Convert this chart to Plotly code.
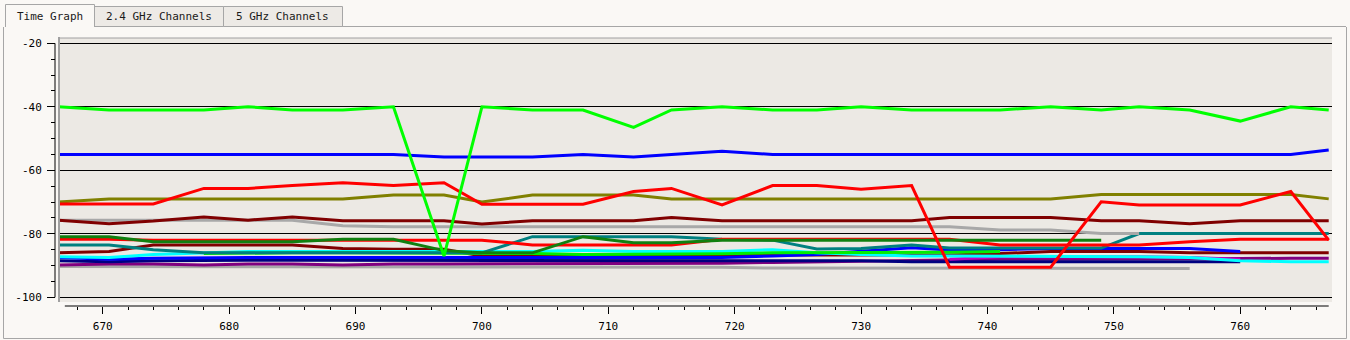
import plotly.graph_objects as go

# ---------------- data ----------------
times = [666.5, 670.5, 674, 678, 681.5, 685, 689, 693, 697, 700, 704, 708, 712, 715,
         719, 723, 726.5, 730, 734, 737, 741, 745, 749, 752, 756, 760, 764, 767]

N = None
lime = [-40, -41, -41, -41, -40, -41, -41, -40, -87, -40, -41, -41, -46.5, -41,
        -40, -41, -41, -40, -41, -41, -41, -40, -41, -40, -41, -44.5, -40, -41]
blue = [-55, -55, -55, -55, -55, -55, -55, -55, -55.8, -55.8, -55.8, -55, -55.8, -55,
        -54, -55, -55, -55, -55, -55, -55, -55, -55, -55, -55, -55, -55, -53.6]
olive = [-70, -69, -69, -69, -69, -69, -69, -67.8, -67.8, -70, -67.8, -67.8, -67.8, -69,
         -69, -69, -69, -69, -69, -69, -69, -69, -67.6, -67.6, -67.6, -67.6, -67.6, -69]
red1 = [-70.6, -70.6, -70.6, -65.7, -65.7, -64.8, -63.9, -64.8, -63.9, -70.7, -70.7, -70.7, -66.7, -65.7,
        -70.9, -64.8, -64.8, -66, -64.8, -90.5, -90.5, -90.5, -69.9, -70.9, -70.9, -70.9, -66.7, -82]
maroon1 = [-75.7, -76.8, -76, -74.7, -75.7, -74.7, -75.9, -75.9, -75.9, -76.9, -75.9, -75.9, -75.9, -74.9,
           -75.9, -75.9, -75.9, -75.9, -75.9, -74.9, -74.9, -74.9, -75.9, -75.9, -76.8, -75.9, -75.9, -75.9]
gray1 = [-75.7, -75.7, -75.7, -75.7, -75.7, -75.7, -77.5, -77.8, -77.8, -77.8, -77.8, -77.8, -77.8, -77.8,
         -77.8, -77.8, -77.8, -77.8, -77.8, -77.8, -78.8, -78.8, -79.9, -79.9, N, N, N, N]
dkgreen = [-80.9, -80.9, -82.5, -82.5, -82.5, -82.5, -81.7, -81.7, -85.3, -86, -86, -80.9, -82.8, -82.8,
           -82, -82, -82, -82, -82, -82, -82, -82, -82, N, N, N, N, N]
red2 = [-81.7, -81.7, -82, -82, -82, -82, -82, -82, -82, -82, -83.5, -83.5, -83.5, -83.5,
        -81.7, -81.7, -81.7, -81.7, -81.7, -81.7, -83.5, -83.5, -83.5, -83.5, -82.5, -81.7, -81.7, -81.7]
teal = [-83.5, -83.5, -85, -86, -86, -86, -86, -86, -86, -86, -80.9, -80.9, -80.9, -80.9,
        -81.7, -82, -84.8, -84.6, -83.5, -84.5, -84.5, -84.5, -84.5, -79.9, -79.9, -79.9, -79.9, -79.9]
cyan = [-87.2, -87.5, -86.5, -86, -85.6, -85.6, -85.6, -85.6, -85.6, -85.6, -85.6, -85.2, -85.6, -85.6,
        -85.6, -85, -86, -86.5, -87, -87, -87, -87, -87.2, -87.2, -87.5, -88.5, -88.8, -88.8]
lime2 = [N, N, N, -86.2, -86, -86, -86, -86, -86, -86, -86.2, -86.5, -86.5, -86.5,
         -86.3, -86, -86, -86, -86, -85.8, -85.6, N, N, N, N, N, N, N]
blue2 = [-87.5, -88, -87.7, -87.5, -87.5, -87.5, -87.5, -87.5, -87.5, -87.5, -87.5, -87.5, -87.5, -87.5,
         -87.5, -87, -86.5, -85.5, -84.4, -85.1, -85, -84.6, -84.6, -84.6, -84.6, -85.6, N, N]
maroon2 = [-86, -85.6, -83.5, -83.5, -83.5, -83.5, -84.6, -84.9, -84.9, -87, -87, -87, -87, -87,
           -87, -86.7, -86.7, -86.7, -86.7, -86.7, -86.2, -85.6, -85.6, -85.6, -86, -86, -86, -86]
navy = [-88.5, -88.8, -88.5, -88.3, -88.3, -88.3, -88.3, -88.3, -88.3, -88.3, -88.3, -88.5, -88.5, -88.5,
        -88.5, -88.5, -88.5, -88.5, -88.8, -88.8, -89, -89, -89, -88.8, -88.8, -88.8, N, N]
purple = [-89.8, -89.5, -89.5, -89.8, -89.5, -89.5, -89.8, -89.5, -89.5, -89.5, -89.5, -89.5, -89.5, -89.5,
          -89.3, -89, -88.8, -88.5, -88.3, -88.3, -88, -88, -88, -88, -88, -87.8, -87.7, -87.7]
magenta = [N, N, N, N, N, N, N, N, N, N, N, N, N, N,
           N, N, N, N, N, -88, -87.2, -87.2, -87.2, -87.2, -87.5, -88, N, N]
gray2 = [-90.3, -90.3, -90.3, -90.3, -90.3, -90.3, -90.3, -90.5, -90.5, -90.5, -90.5, -90.5, -90.5, -90.5,
         -90.5, -90.8, -90.8, -90.8, -90.8, -90.9, -90.9, -90.9, -90.9, -90.9, -90.9, N, N, N]

x_ticks = [670, 680, 690, 700, 710, 720, 730, 740, 750, 760]
y_ticks = [-100, -80, -60, -40, -20]
tabs = ["Time Graph", "2.4 GHz Channels", "5 GHz Channels"]

series = [
    ("gray2", gray2, "#A8A8A8"),
    ("purple", purple, "#800080"),
    ("navy", navy, "#000080"),
    ("magenta", magenta, "#C000C0"),
    ("maroon2", maroon2, "#800000"),
    ("blue2", blue2, "#0000FF"),
    ("cyan", cyan, "#00FFFF"),
    ("lime2", lime2, "#00EE00"),
    ("teal", teal, "#008080"),
    ("red2", red2, "#FF0000"),
    ("dkgreen", dkgreen, "#108010"),
    ("gray1", gray1, "#A8A8A8"),
    ("maroon1", maroon1, "#800000"),
    ("olive", olive, "#808000"),
    ("red1", red1, "#FF0000"),
    ("blue", blue, "#0000FF"),
    ("lime", lime, "#00FF00"),
]

# ---------------- layout geometry ----------------
W, H = 1350, 340
ML, MR, MT, MB = 55, 18, 38, 34
PW = W - ML - MR
PH = H - MT - MB


def px(x):
    return (x - ML) / PW


def py(y):
    return (H - MB - y) / PH


PAGE = "#FAF8F5"
PLOT = "#ECE9E4"
BORDER = "#A6A6A6"
FONT = "DejaVu Sans Mono"

fig = go.Figure()
for name, vals, col in series:
    fig.add_trace(go.Scatter(x=times, y=vals, mode="lines", name=name,
                             line=dict(color=col, width=3), connectgaps=False,
                             hoverinfo="skip"))

shapes = []
# panel border
shapes.append(dict(type="line", xref="paper", yref="paper", x0=px(94), x1=px(1346), y0=py(26.5), y1=py(26.5),
                   line=dict(color=BORDER, width=1), layer="below"))
shapes.append(dict(type="line", xref="paper", yref="paper", x0=px(3.5), x1=px(3.5), y0=py(27), y1=py(338.5),
                   line=dict(color=BORDER, width=1)))
shapes.append(dict(type="line", xref="paper", yref="paper", x0=px(1346.5), x1=px(1346.5), y0=py(27), y1=py(338.5),
                   line=dict(color=BORDER, width=1)))
shapes.append(dict(type="line", xref="paper", yref="paper", x0=px(3.5), x1=px(1346.5), y0=py(338.5), y1=py(338.5),
                   line=dict(color=BORDER, width=1)))
# inactive tabs
tab_boxes = [(5, 94, 4), (94, 223, 6), (223, 342, 6)]
for i, (a, b, top) in enumerate(tab_boxes):
    if i == 0:
        continue
    shapes.append(dict(type="rect", xref="paper", yref="paper", x0=px(a + 0.5), x1=px(b + 0.5), y0=py(26.5), y1=py(top + 0.5),
                       fillcolor="#EDEAE6", line=dict(color=BORDER, width=1)))
# active tab
a, b, top = tab_boxes[0]
shapes.append(dict(type="path", xref="paper", yref="paper",
                   path=f"M {px(a+0.5)},{py(27)} L {px(a+0.5)},{py(top+0.5)} L {px(b+0.5)},{py(top+0.5)} L {px(b+0.5)},{py(27)}",
                   line=dict(color=BORDER, width=1)))
# plot sunken border (left & top)
shapes.append(dict(type="line", xref="paper", yref="paper", x0=px(59), x1=px(59), y0=py(37), y1=py(302),
                   line=dict(color="#A0A0A0", width=2)))
shapes.append(dict(type="line", xref="paper", yref="paper", x0=px(58), x1=px(1332), y0=py(38), y1=py(38),
                   line=dict(color="#A0A0A0", width=1)))
# y axis line
shapes.append(dict(type="line", xref="paper", yref="y", x0=0, x1=0, y0=y_ticks[0], y1=y_ticks[-1],
                   line=dict(color="black", width=1)))
# x axis line
shapes.append(dict(type="line", xref="x", yref="paper", x0=667, x1=767, y0=0, y1=0,
                   line=dict(color="black", width=1)))

annotations = []
for i, ((a, b, top), t) in enumerate(zip(tab_boxes, tabs)):
    annotations.append(dict(text=t, xref="paper", yref="paper", x=px((a + b) / 2), y=py(17),
                            xanchor="center", yanchor="middle", showarrow=False,
                            font=dict(family=FONT, size=11, color="#1A1A1A")))

fig.update_layout(
    width=W, height=H,
    margin=dict(l=ML, r=MR, t=MT, b=MB, pad=0, autoexpand=False),
    paper_bgcolor=PAGE, plot_bgcolor=PLOT,
    showlegend=False,
    shapes=shapes, annotations=annotations,
    xaxis=dict(domain=[px(58), 1], range=[666.46, 767.26], anchor="free", position=0,
               automargin=False,
               tickvals=x_ticks, ticktext=[str(v) for v in x_ticks],
               ticks="outside", ticklen=7, tickcolor="black", tickwidth=1,
               ticklabelstandoff=3,
               minor=dict(dtick=2, tick0=670, ticks="outside", ticklen=3, tickcolor="black", showgrid=False),
               showgrid=False, zeroline=False, showline=False,
               tickfont=dict(family=FONT, size=11, color="black")),
    yaxis=dict(domain=[py(302), 1], range=[-101.48, -18.33], anchor="free", position=0,
               automargin=False,
               tickvals=y_ticks, ticktext=[str(v) for v in y_ticks],
               ticks="outside", ticklen=8, tickcolor="black", tickwidth=1,
               ticklabelstandoff=3,
               minor=dict(dtick=5, tick0=-100, ticks="outside", ticklen=4, tickcolor="black", showgrid=False),
               showgrid=True, gridcolor="black", gridwidth=1,
               zeroline=False, showline=False,
               tickfont=dict(family=FONT, size=11, color="black")),
)

fig.write_html("out.html")
